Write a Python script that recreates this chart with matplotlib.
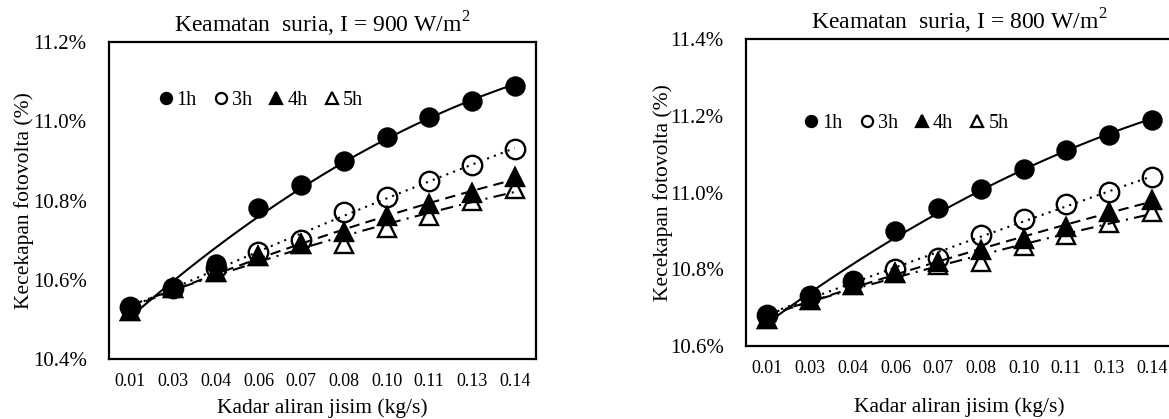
import numpy as np
import matplotlib
matplotlib.use("Agg")
import matplotlib.pyplot as plt
from matplotlib.lines import Line2D
from matplotlib.ticker import FuncFormatter

plt.rcParams['font.family'] = ['Liberation Serif', 'DejaVu Serif']
plt.rcParams['mathtext.fontset'] = 'custom'
plt.rcParams['mathtext.rm'] = 'Liberation Serif'

kadar = ["0.01", "0.03", "0.04", "0.06", "0.07", "0.08", "0.10", "0.11", "0.13", "0.14"]
siri = ["1h", "3h", "4h", "5h"]

# I = 900 W/m2
k900_1h = [10.53, 10.58, 10.64, 10.78, 10.84, 10.90, 10.96, 11.01, 11.05, 11.09]
k900_3h = [10.53, 10.58, 10.63, 10.67, 10.70, 10.77, 10.81, 10.85, 10.89, 10.93]
k900_4h = [10.52, 10.58, 10.62, 10.66, 10.69, 10.72, 10.76, 10.79, 10.82, 10.86]
k900_5h = [10.52, 10.58, 10.62, 10.66, 10.69, 10.69, 10.73, 10.76, 10.80, 10.83]

# I = 800 W/m2
k800_1h = [10.68, 10.73, 10.77, 10.90, 10.96, 11.01, 11.06, 11.11, 11.15, 11.19]
k800_3h = [10.68, 10.73, 10.77, 10.80, 10.83, 10.89, 10.93, 10.97, 11.00, 11.04]
k800_4h = [10.67, 10.72, 10.76, 10.79, 10.82, 10.85, 10.88, 10.91, 10.95, 10.98]
k800_5h = [10.67, 10.72, 10.76, 10.79, 10.81, 10.82, 10.86, 10.89, 10.92, 10.95]

gaya = {
    "1h": dict(marker='o', mfc='black', ms=13, ls='-'),
    "3h": dict(marker='o', mfc='none', ms=14, ls=(0, (1, 2.5))),
    "4h": dict(marker='^', mfc='black', ms=13, ls=(0, (5, 3))),
    "5h": dict(marker='^', mfc='none', ms=13, ls=(0, (6, 3, 1, 3))),
}


def lukis(ax, data, ylim, title, leg_xy):
    x = np.arange(1, len(kadar) + 1)
    xs = np.linspace(1, len(kadar), 200)
    for nama, y in zip(siri, data):
        g = gaya[nama]
        ax.plot(x, y, ls='none', marker=g['marker'], ms=g['ms'], mfc=g['mfc'],
                mec='black', mew=1.7, zorder=3)
        # garis arah aliran (trendline polinomial)
        p = np.polyfit(x, y, 2)
        ax.plot(xs, np.polyval(p, xs), color='black', lw=1.5, ls=g['ls'], zorder=4)
    ax.set_xlim(0.5, len(kadar) + 0.5)
    ax.set_ylim(*ylim)
    ax.set_yticks(np.arange(ylim[0], ylim[1] + 0.001, 0.2))
    ax.yaxis.set_major_formatter(FuncFormatter(lambda v, _: f"{v:.1f}%"))
    ax.set_xticks(x)
    ax.set_xticklabels(kadar, fontsize=13)
    ax.tick_params(axis='y', labelsize=15, length=0, pad=16)
    ax.tick_params(axis='x', length=0, pad=10)
    for s in ax.spines.values():
        s.set_linewidth(1.6)
        s.set_color('black')
    ax.set_title(title, fontsize=17, pad=7)
    ax.set_xlabel("Kadar aliran jisim (kg/s)", fontsize=15.5)
    ax.set_ylabel("Kecekapan fotovolta (%)", fontsize=15.5)
    handles = [Line2D([], [], ls='none', marker=gaya[n]['marker'], mfc=gaya[n]['mfc'],
                      mec='black', mew=1.6, ms=8) for n in siri]
    ax.legend(handles, siri, loc='center left', bbox_to_anchor=leg_xy, ncol=4,
              frameon=False, fontsize=14.5, handlelength=0.8, handletextpad=0.15,
              columnspacing=0.8, borderpad=0)


fig = plt.figure(figsize=(11.69, 4.19), dpi=100)
ax1 = fig.add_axes([109 / 1169, (419 - 359) / 419, 427 / 1169, 317 / 419])
ax2 = fig.add_axes([746 / 1169, (419 - 346) / 419, 427 / 1169, 307 / 419])

lukis(ax1, [k900_1h, k900_3h, k900_4h, k900_5h], (10.4, 11.2),
      "Keamatan  suria, I = 900 W/m$^2$", (0.09, 0.816))
lukis(ax2, [k800_1h, k800_3h, k800_4h, k800_5h], (10.6, 11.4),
      "Keamatan  suria, I = 800 W/m$^2$", (0.11, 0.726))

ax1.xaxis.set_label_coords(0.5, -0.125)
ax2.xaxis.set_label_coords(0.5, -0.168)
ax1.yaxis.set_label_coords(-0.175, 0.5)
ax2.yaxis.set_label_coords(-0.17, 0.5)

fig.savefig("out.png", dpi=100)
